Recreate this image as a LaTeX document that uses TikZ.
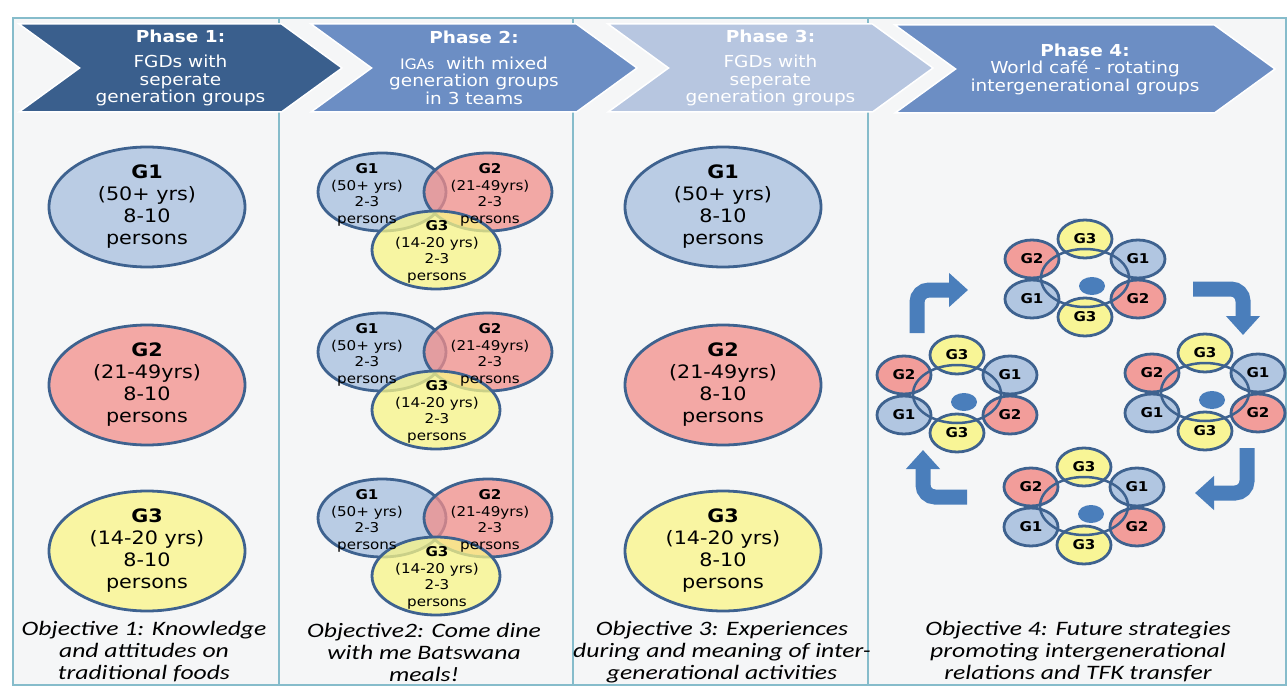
\documentclass[tikz,border=0pt]{standalone}
\usepackage{fontspec}
\setmainfont{DejaVu Sans}[FakeStretch=1.12]
\newfontfamily\objfont{Carlito}[FakeStretch=1.25]
\newfontfamily\igafont{Carlito}[FakeStretch=1.12]
\usepackage{tikz}
\usetikzlibrary{arrows.meta,positioning,shapes.geometric,shapes.symbols}
\usepackage{xcolor}
\definecolor{panel}{HTML}{F5F6F7}
\definecolor{rule}{HTML}{86BCCB}
\definecolor{darkp}{HTML}{3A5F8D}
\definecolor{midp}{HTML}{6C8EC4}
\definecolor{palep}{HTML}{B7C6E0}
\definecolor{edge}{HTML}{3E628F}
\definecolor{gblue}{HTML}{BACCE4}
\definecolor{gred}{HTML}{F3A8A5}
\definecolor{gyellow}{HTML}{F9F5A2}
\definecolor{vblue}{HTML}{A6BEDE}
\definecolor{vred}{HTML}{F28E8A}
\definecolor{vyellow}{HTML}{F9F586}
\definecolor{turn}{HTML}{4A7EBB}
\tikzset{
  phase/.style={signal, signal from=west, signal to=east, signal pointer angle=72, minimum height=88pt, inner sep=1pt, draw=white, line width=1.5pt, text=white, align=center, font=\fontsize{16.5}{17.5}\selectfont},
  gen/.style={ellipse, draw=edge, line width=2.8pt, align=center, inner sep=0pt},
  big/.style={gen, minimum width=196pt, minimum height=120pt, inner ysep=-10pt, font=\fontsize{18.5}{22}\selectfont},
  venn/.style={gen, minimum width=128pt, minimum height=78pt, fill opacity=0.75},
  vtxt/.style={align=center, inner sep=0pt, font=\fontsize{13.5}{16.7}\selectfont},
  small/.style={gen, minimum width=54pt, minimum height=38pt, fill opacity=0.85, text opacity=1, font=\bfseries\fontsize{13.5}{14}\selectfont},
  ring/.style={ellipse, draw=edge, line width=2.5pt, minimum width=88pt, minimum height=58pt},
  hub/.style={ellipse, fill=turn, minimum width=26pt, minimum height=18pt, inner sep=0pt},
  objective/.style={align=center, inner sep=0pt, font=\objfont\itshape\fontsize{20.5}{22}\selectfont},
  turnarrow/.style={draw=turn, line width=15pt, rounded corners=12pt, -{Triangle[length=19pt,width=33pt]}}
}

\begin{document}
\begin{tikzpicture}[x=1pt, y=-1pt]
  \useasboundingbox (0,0) rectangle (1288,687);
  \fill[panel] (13,18) rectangle (1286,685);
  \draw[rule, line width=2pt] (13,18) rectangle (1286,685);
  \draw[rule, line width=2pt] (279,18) -- (279,685) (573,18) -- (573,685) (868,18) -- (868,685);

  \node[phase, fill=darkp, minimum width=323pt] (ph1) at (180.5,68) {\textbf{Phase 1:}\\[8pt]FGDs with\\seperate\\generation groups};
  \node[phase, fill=midp, minimum width=326pt] (ph2) at (474,68) {\textbf{Phase 2:}\\[8pt]{\igafont IGAs}~ with mixed\\generation groups\\in 3 teams};
  \node[phase, fill=palep, minimum width=325pt] (ph3) at (770.5,68) {\textbf{Phase 3:}\\[8pt]FGDs with\\seperate\\generation groups};
  \node[phase, fill=midp, minimum width=380pt] (ph4) at (1085,69) {\textbf{Phase 4:}\\World café - rotating\\intergenerational groups};

  \node[big, fill=gblue] (p1g1) at (147,207) {\textbf{G1}\\(50+ yrs)\\8-10\\persons};
  \node[big, fill=gred] (p1g2) at (147,385) {\textbf{G2}\\(21-49yrs)\\8-10\\persons};
  \node[big, fill=gyellow] (p1g3) at (147,551) {\textbf{G3}\\(14-20 yrs)\\8-10\\persons};

  \foreach \k/\dy in {1/0, 2/160, 3/326} {
    \node[venn, fill=vblue] (v\k-g1) at (382,192+\dy) {};
    \node[venn, fill=vred] (v\k-g2) at (488,192+\dy) {};
    \node[venn, fill=vyellow] (v\k-g3) at (436,250+\dy) {};
    \node[vtxt] (v\k-t1) at (367,195+\dy) {\textbf{G1}\\(50+ yrs)\\2-3\\persons};
    \node[vtxt] (v\k-t2) at (490,195+\dy) {\textbf{G2}\\(21-49yrs)\\2-3\\persons};
    \node[vtxt] (v\k-t3) at (437,252+\dy) {\textbf{G3}\\(14-20 yrs)\\2-3\\persons};
  }

  \node[big, fill=gblue] (p3g1) at (723,207) {\textbf{G1}\\(50+ yrs)\\8-10\\persons};
  \node[big, fill=gred] (p3g2) at (723,385) {\textbf{G2}\\(21-49yrs)\\8-10\\persons};
  \node[big, fill=gyellow] (p3g3) at (723,551) {\textbf{G3}\\(14-20 yrs)\\8-10\\persons};

  \foreach \cx/\cy/\n in {1085/278/top, 957/394/left, 1205/392/right, 1084/506/bottom} {
    \node[small, fill=vyellow] (\n-g3a) at (\cx,\cy-39) {G3};
    \node[small, fill=vred] (\n-g2a) at (\cx-53,\cy-19) {G2};
    \node[small, fill=vblue] (\n-g1a) at (\cx+53,\cy-19) {G1};
    \node[small, fill=vblue] (\n-g1b) at (\cx-53,\cy+21) {G1};
    \node[small, fill=vred] (\n-g2b) at (\cx+53,\cy+21) {G2};
    \node[small, fill=vyellow] (\n-g3b) at (\cx,\cy+39) {G3};
    \node[ring] (\n-ring) at (\cx,\cy) {};
    \node[hub] (\n-hub) at (\cx+7,\cy+8) {};
  }

  \coordinate (tl-from) at (917,333);
  \coordinate (tl-to) at (968,290);
  \coordinate (tr-from) at (1193,289);
  \coordinate (tr-to) at (1243,335);
  \coordinate (br-from) at (1247,448);
  \coordinate (br-to) at (1195,493);
  \coordinate (bl-from) at (967,497);
  \coordinate (bl-to) at (923,450);
  \draw[turnarrow] (tl-from) |- (tl-to);
  \draw[turnarrow] (tr-from) -| (tr-to);
  \draw[turnarrow] (br-from) |- (br-to);
  \draw[turnarrow] (bl-from) -| (bl-to);

  \node[objective] (obj1) at (144,652) {Objective 1: Knowledge\\and attitudes on\\traditional foods};
  \node[objective] (obj2) at (424,652) {Objective2: Come dine\\with me Batswana\\meals!};
  \node[objective] (obj3) at (722,652) {Objective 3: Experiences\\during and meaning of inter-\\generational activities};
  \node[objective] (obj4) at (1078,652) {Objective 4: Future strategies\\promoting intergenerational\\relations and TFK transfer};
\end{tikzpicture}
\end{document}
